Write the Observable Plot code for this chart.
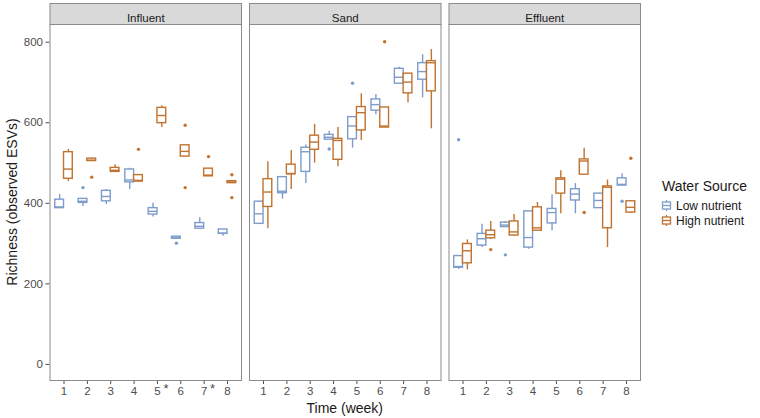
<!DOCTYPE html>
<html><head><meta charset="utf-8">
<script src="https://cdn.jsdelivr.net/npm/d3@7"></script>
<script src="https://cdn.jsdelivr.net/npm/@observablehq/plot@0.6"></script>
<style>
body{margin:0;background:#fff;font-family:"Liberation Sans",Arial,sans-serif;}
#chart{position:relative;width:760px;height:418px;}
</style></head><body><div id="chart"></div>
<script>
const facets = ["Influent", "Sand", "Effluent"];
const weeks = ["1", "2", "3", "4", "5", "6", "7", "8"];
const groups = ["Low nutrient", "High nutrient"];
const colors = ["#7d9ccb", "#c0732f"];
const yTicks = [0, 200, 400, 600, 800];
const starredWeeks = [["Influent", "5"], ["Influent", "7"]];

// [whisker low, Q1, median, Q3, whisker high] for weeks 1..8
const influentLow  = [[388,388,391,409,422],[392,401,405,411,412],[397,405,417,431,434],[434,452,458,484,487],[366,372,380,388,400],[311,312,314,317,318],[336,337,343,351,364],[318,324,326,335,335]];
const influentHigh = [[454,461,485,527,534],[505,505,507,511,512],[478,478,482,488,496],[453,454,457,470,470],[588,599,618,637,642],[516,516,529,544,544],[467,467,470,486,486],[450,450,453,455,456]];
const sandLow      = [[349,349,374,404,405],[410,425,430,465,465],[449,478,528,538,545],[558,558,564,570,579],[537,559,592,614,614],[620,630,645,658,670],[697,697,713,734,738],[662,707,727,748,769]];
const sandHigh     = [[337,391,428,460,503],[434,472,474,496,531],[500,533,552,568,596],[491,508,556,560,588],[556,581,625,639,672],[588,588,592,638,638],[650,673,701,722,722],[585,678,749,753,782]];
const effluentLow  = [[236,240,243,269,269],[290,295,312,324,348],[341,341,346,352,355],[286,290,315,380,380],[332,350,377,386,421],[374,407,423,435,449],[388,388,407,424,425],[444,444,447,462,473]];
const effluentHigh = [[235,251,282,299,309],[310,313,322,332,355],[318,320,329,355,372],[332,332,339,390,402],[374,424,460,462,481],[471,471,505,509,537],[290,338,440,442,458],[375,377,390,405,405]];

// outliers: [facet, group, week, value]
const outliers = [
  ["Influent","Low nutrient","2",439],["Influent","Low nutrient","6",301],
  ["Influent","High nutrient","2",465],["Influent","High nutrient","4",534],
  ["Influent","High nutrient","6",594],["Influent","High nutrient","6",439],
  ["Influent","High nutrient","7",516],["Influent","High nutrient","8",471],["Influent","High nutrient","8",414],
  ["Sand","Low nutrient","4",535],["Sand","Low nutrient","5",698],
  ["Sand","High nutrient","6",801],
  ["Effluent","Low nutrient","1",558],["Effluent","Low nutrient","3",272],["Effluent","Low nutrient","8",405],
  ["Effluent","High nutrient","2",285],["Effluent","High nutrient","6",377],["Effluent","High nutrient","8",512]
];

const statSets = [[influentLow, influentHigh], [sandLow, sandHigh], [effluentLow, effluentHigh]];
const rows = [];
facets.forEach((f, fi) => groups.forEach((g, gi) => statSets[fi][gi].forEach((s, wi) =>
  rows.push({facet: f, group: g, week: weeks[wi], lo: s[0], q1: s[1], med: s[2], q3: s[3], hi: s[4]}))));
const outRows = outliers.map(([facet, group, week, value]) => ({facet, group, week, value}));

// layout
const W = 760, H = 418, mL = 49.5, mR = 120, mT = 24, mB = 38, gap = 8;
const fxStep = (W - mL - mR + gap) / 3;
const panelW = fxStep - gap;
const xStep = panelW / 8.2;
const half = xStep * 0.75 / 2, quarter = half / 2;

function groupMarks(gi) {
  const g = groups[gi], c = colors[gi];
  const data = rows.filter(r => r.group === g);
  const od = outRows.filter(r => r.group === g);
  const off = gi === 0 ? -quarter : quarter;
  const inset = gi === 0 ? {insetRight: half, insetLeft: 0} : {insetLeft: half, insetRight: 0};
  return [
    Plot.ruleX(data, {fx: "facet", x: "week", y1: "lo", y2: "hi", stroke: c, strokeWidth: 1.4, dx: off}),
    Plot.barY(data, {fx: "facet", x: "week", y1: "q1", y2: "q3", fill: "white", stroke: c, strokeWidth: 1.4, ...inset}),
    Plot.tickY(data, {fx: "facet", x: "week", y: "med", stroke: c, strokeWidth: 1.4, ...inset}),
    Plot.dot(od, {fx: "facet", x: "week", y: "value", fill: c, r: 1.7, dx: off})
  ];
}

const chart = Plot.plot({
  width: W, height: H,
  marginLeft: mL, marginRight: mR, marginTop: mT, marginBottom: mB,
  style: {fontFamily: "Liberation Sans, Arial, sans-serif", color: "#4d4d4d", background: "white"},
  fx: {domain: facets, paddingInner: gap / fxStep, paddingOuter: 0, round: false, axis: null, label: null},
  x: {type: "band", domain: weeks, paddingInner: 0.25, paddingOuter: 0.225, round: false, axis: null, label: null},
  y: {domain: [-40, 844], axis: null, label: null},
  marks: [
    Plot.frame({fill: "#d9d9d9", stroke: "#8a8a8a", strokeWidth: 1, insetTop: -21, insetBottom: H - mT - mB}),
    Plot.text(facets, {fx: d => d, text: d => d, frameAnchor: "top", dy: -10.5, fontSize: 11.5, fill: "#1a1a1a"}),
    Plot.axisX({tickSize: 4, tickPadding: 2, fontSize: 11.5, label: null}),
    Plot.axisY({ticks: yTicks, tickSize: 4, tickPadding: 3, fontSize: 11.5, label: null, facetAnchor: "left"}),
    Plot.text(starredWeeks, {fx: d => d[0], x: d => d[1], text: () => "*", frameAnchor: "bottom", dy: 12, dx: 8.5, fontSize: 13, fill: "#4d4d4d"}),
    ...groupMarks(0),
    ...groupMarks(1),
    Plot.frame({stroke: "#8a8a8a", strokeWidth: 1})
  ]
});
document.getElementById("chart").appendChild(chart);

// axis titles and legend
const svg = d3.select(chart);
svg.append("text").attr("transform", `translate(16.5,${(mT + H - mB) / 2}) rotate(-90)`)
  .attr("text-anchor", "middle").attr("font-size", 14).attr("fill", "#1a1a1a").text("Richness (observed ESVs)");
svg.append("text").attr("x", mL + (W - mL - mR) / 2).attr("y", 413)
  .attr("text-anchor", "middle").attr("font-size", 14).attr("fill", "#1a1a1a").text("Time (week)");
const lg = svg.append("g").attr("transform", "translate(662,0)").attr("text-anchor", "start");
lg.append("text").attr("x", 0).attr("y", 191).attr("font-size", 14).attr("fill", "#1a1a1a").text("Water Source");
groups.forEach((g, i) => {
  const cy = 205.5 + i * 15;
  const k = lg.append("g").attr("stroke", colors[i]).attr("stroke-width", 1.3).attr("fill", "white");
  k.append("line").attr("x1", 4.5).attr("x2", 4.5).attr("y1", cy - 5.5).attr("y2", cy + 5.5);
  k.append("rect").attr("x", 0.5).attr("width", 8).attr("y", cy - 3.5).attr("height", 7);
  k.append("line").attr("x1", 0.5).attr("x2", 8.5).attr("y1", cy).attr("y2", cy);
  lg.append("text").attr("x", 14).attr("y", cy + 4.5).attr("font-size", 12).attr("fill", "#1a1a1a").text(g);
});
</script></body></html>
